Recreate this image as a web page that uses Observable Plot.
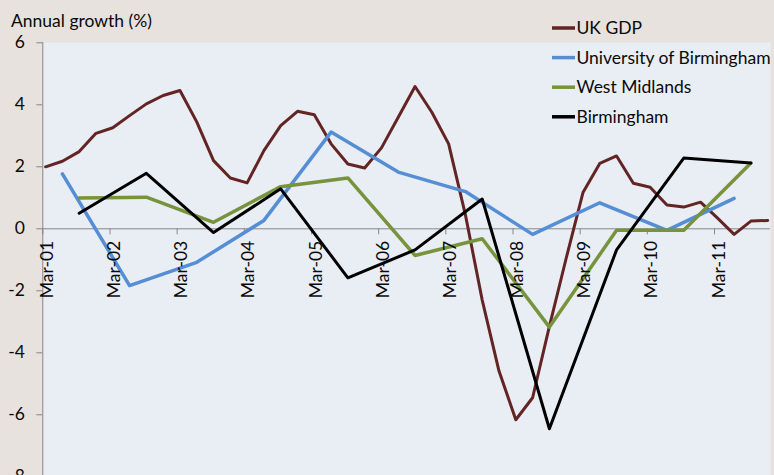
<!DOCTYPE html>
<html><head><meta charset="utf-8">
<script src="https://cdn.jsdelivr.net/npm/d3@7"></script>
<script src="https://cdn.jsdelivr.net/npm/@observablehq/plot@0.6"></script>
<style>
html,body{margin:0;padding:0;background:#e7e2de;}
#wrap{position:relative;width:774px;height:475px;overflow:hidden;background:#e7e2de;}
#wrap svg{position:absolute;left:0;top:0;}
</style></head><body><div id="wrap"></div>
<script>
// ---- data ----
const quarters = ["Mar-01","Jun-01","Sep-01","Dec-01","Mar-02","Jun-02","Sep-02","Dec-02",
  "Mar-03","Jun-03","Sep-03","Dec-03","Mar-04","Jun-04","Sep-04","Dec-04",
  "Mar-05","Jun-05","Sep-05","Dec-05","Mar-06","Jun-06","Sep-06","Dec-06",
  "Mar-07","Jun-07","Sep-07","Dec-07","Mar-08","Jun-08","Sep-08","Dec-08",
  "Mar-09","Jun-09","Sep-09","Dec-09","Mar-10","Jun-10","Sep-10","Dec-10",
  "Mar-11","Jun-11","Sep-11","Dec-11"];
const ukGdp = [2.0,2.18,2.49,3.08,3.26,3.65,4.03,4.3,
  4.46,3.45,2.2,1.64,1.48,2.52,3.33,3.79,
  3.68,2.74,2.09,1.96,2.61,3.6,4.59,3.76,
  2.74,0.45,-2.3,-4.59,-6.16,-5.45,-3.15,-0.95,
  1.17,2.11,2.35,1.47,1.34,0.77,0.7,0.86,
  0.35,-0.18,0.25,0.27];
const uniDates = ["Jun-01","Jun-02","Jun-03","Jun-04","Jun-05","Jun-06","Jun-07","Jun-08","Jun-09","Jun-10","Jun-11"];
const uniBirmingham = [1.77,-1.83,-1.08,0.27,3.12,1.83,1.2,-0.18,0.84,-0.05,0.98];
const regionDates = ["Sep-01","Sep-02","Sep-03","Sep-04","Sep-05","Sep-06","Sep-07","Sep-08","Sep-09","Sep-10","Sep-11"];
const westMidlands = [0.99,1.02,0.21,1.36,1.64,-0.86,-0.32,-3.17,-0.05,-0.05,2.12];
const birmingham = [0.5,1.79,-0.12,1.29,-1.58,-0.68,0.96,-6.45,-0.68,2.28,2.12];
const tickLabels = ["Mar-01","Mar-02","Mar-03","Mar-04","Mar-05","Mar-06","Mar-07","Mar-08","Mar-09","Mar-10","Mar-11"];
const yTicks = [6,4,2,0,-2,-4,-6,-8];
const seriesNames = ["UK GDP","University of Birmingham","West Midlands","Birmingham"];
const seriesColors = ["#632523","#558ed5","#77933c","#000000"];
const seriesWidths = [3,3.5,3.5,3];
const yTitle = "Annual growth (%)";

// ---- helpers ----
const monthNum = {Jan:1,Feb:2,Mar:3,Apr:4,May:5,Jun:6,Jul:7,Aug:8,Sep:9,Oct:10,Nov:11,Dec:12};
function slot(label){ const [m,y] = label.split("-"); return (+y - 1)*12 + monthNum[m] - 3; }
function rowsFor(name, dates, values){ return dates.map((d,i)=>({series:name, x:slot(d)+0.5, y:values[i]})); }
const seriesRows = [
  rowsFor(seriesNames[0], quarters, ukGdp),
  rowsFor(seriesNames[1], uniDates, uniBirmingham),
  rowsFor(seriesNames[2], regionDates, westMidlands),
  rowsFor(seriesNames[3], regionDates, birmingham)
];

const axisColor = "#868686";
const textColor = "#0a0a0a";
const font = "Lato";

const plot = Plot.plot({
  width: 774, height: 475,
  marginLeft: 42.3, marginRight: 4, marginTop: 42, marginBottom: 0,
  style: {background: "transparent", fontFamily: font, color: textColor, overflow: "hidden"},
  x: {domain: [0, 130], axis: null},
  y: {domain: [-8, 6], range: [476.3, 42.3], axis: null, label: null},
  color: {domain: seriesNames, range: seriesColors},
  marks: [
    Plot.frame({fill: "#e9edf4", stroke: null}),
    Plot.ruleX([0], {stroke: axisColor, strokeWidth: 1}),
    Plot.ruleY([0], {stroke: axisColor, strokeWidth: 1}),
    Plot.ruleY(yTicks, {y: d => d, x1: 0, x2: 0, insetLeft: -6, stroke: axisColor}),
    Plot.ruleX(tickLabels, {x: d => slot(d), y1: 0, y2: 0, insetBottom: -6, stroke: axisColor}),
    ...seriesRows.map((rows, i) => Plot.line(rows, {x: "x", y: "y", stroke: seriesColors[i], strokeWidth: seriesWidths[i], strokeLinejoin: "round", strokeLinecap: "round"})),
    Plot.text(yTicks, {y: d => d, x: 0, text: d => String(d), textAnchor: "end", dx: -18, fontSize: 17.5, fill: textColor}),
    Plot.text(tickLabels, {x: d => slot(d), y: 0, text: d => d, rotate: -90, textAnchor: "end", dx: 4.5, dy: 12, fontSize: 17.5, fill: textColor})
  ]
});
const wrap = document.getElementById("wrap");
wrap.appendChild(plot);

// overlay: y title and legend
const ov = d3.select(wrap).append("svg").attr("width", 774).attr("height", 475)
  .style("font-family", font).style("font-size", "17.5px");
ov.append("text").attr("x", 11).attr("y", 27).attr("fill", textColor).text(yTitle);
const lg = ov.selectAll("g.item").data(seriesNames).join("g").attr("class","item")
  .attr("transform", (d,i) => `translate(552,${34 + i*29.6})`);
lg.append("line").attr("x1", 0).attr("x2", 23).attr("y1", -6).attr("y2", -6)
  .attr("stroke", (d,i) => seriesColors[i]).attr("stroke-width", 3.5);
lg.append("text").attr("x", 24.5).attr("y", 0).attr("fill", textColor).text(d => d);
</script></body></html>
